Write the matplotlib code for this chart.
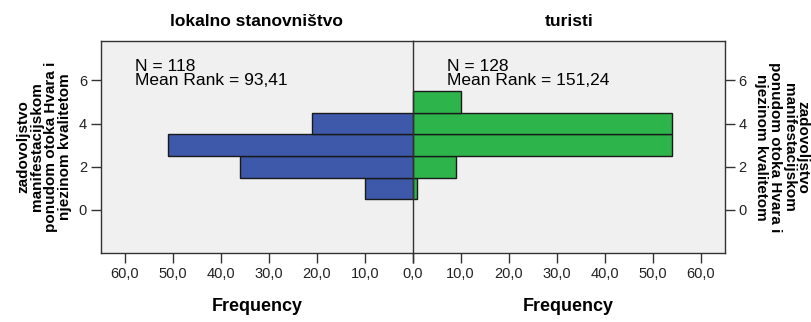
import matplotlib
matplotlib.use("Agg")
import matplotlib.pyplot as plt

plt.rcParams['font.family'] = ['Liberation Sans', 'DejaVu Sans']

# satisfaction scores (bar centres) and counts per group
scores = [1, 2, 3, 4, 5]
lokalno = [10, 36, 51, 21, 0]
turisti = [1, 9, 54, 54, 10]

groups = ["lokalno stanovništvo", "turisti"]
n_values = [118, 128]
mean_ranks = ["93,41", "151,24"]

x_ticks = [0, 10, 20, 30, 40, 50, 60]
y_ticks = [0, 2, 4, 6]

BLUE = "#3E58AA"
GREEN = "#2DB54B"
BG = "#F0F0F0"
EDGE = "#1a1a1a"
YLABEL = "zadovoljstvo\nmanifestacijskom\nponudom otoka Hvara i\nnjezinom kvalitetom"

fig = plt.figure(figsize=(8.11, 3.22), dpi=100)
ax_l = fig.add_axes([0.1245, 0.2143, 0.3843, 0.6584])
ax_r = fig.add_axes([0.5088, 0.2143, 0.3847, 0.6584])

ax_l.barh(scores, lokalno, height=1.0, color=BLUE, edgecolor=EDGE, linewidth=1)
ax_r.barh(scores, turisti, height=1.0, color=GREEN, edgecolor=EDGE, linewidth=1)

ax_l.set_xlim(65, 0)
ax_r.set_xlim(0, 65)

for ax, name, n, mr in zip([ax_l, ax_r], groups, n_values, mean_ranks):
    ax.set_facecolor(BG)
    ax.set_ylim(-1.99, 7.82)
    ax.set_xticks(x_ticks)
    ax.set_xticklabels([f"{v},0" for v in x_ticks])
    ax.set_yticks(y_ticks)
    ax.tick_params(axis='both', labelsize=10.5, length=7, width=1,
                   colors="#333333", labelcolor="#222222", pad=3)
    for sp in ax.spines.values():
        sp.set_color("#333333")
        sp.set_linewidth(1)
    ax.set_title(name, fontsize=12.5, fontweight='bold', pad=11)
    ax.set_xlabel("Frequency", fontsize=13, fontweight='bold', labelpad=12)
    ax.text(0.11, 0.915, f"N = {n}\nMean Rank = {mr}",
            transform=ax.transAxes, fontsize=12.5, va='top', ha='left',
            linespacing=0.9)

# single "0,0" label on the shared centre line
ax_r.set_xticklabels([""] + [f"{v},0" for v in x_ticks[1:]])

ax_l.spines['right'].set_visible(False)
ax_r.yaxis.tick_right()

ax_l.set_ylabel(YLABEL, fontsize=11, fontweight='bold', labelpad=5,
                linespacing=1.0)
ax_r.yaxis.set_label_position("right")
ax_r.set_ylabel(YLABEL, fontsize=11, fontweight='bold', labelpad=5,
                rotation=-90, va='bottom', linespacing=1.0)

fig.savefig("out.png", dpi=100)
